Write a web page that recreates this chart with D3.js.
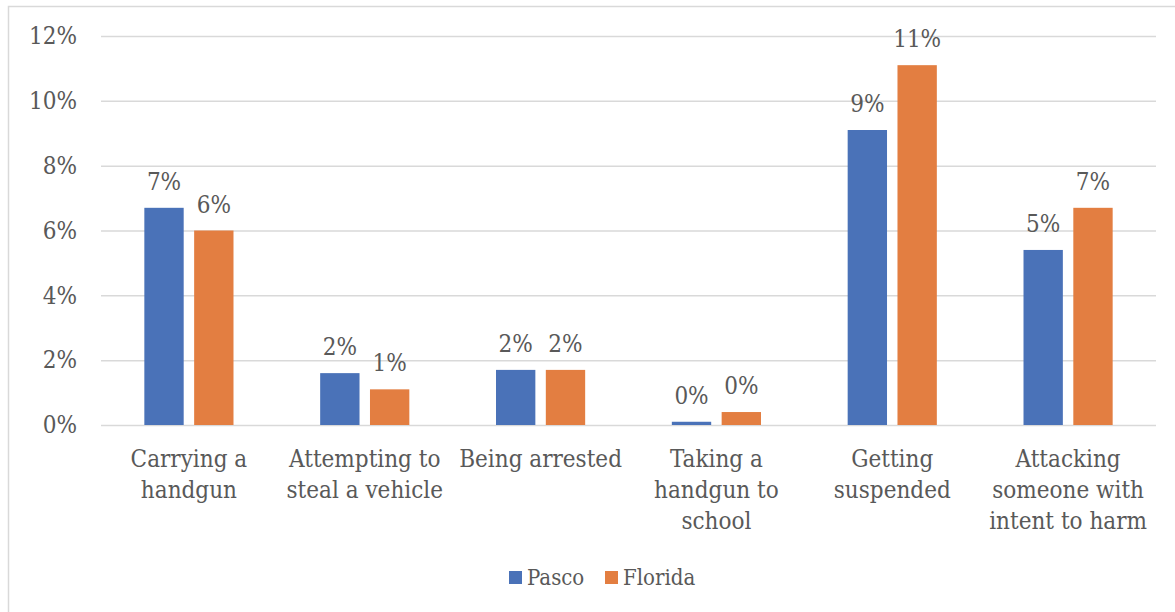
<!DOCTYPE html>
<html>
<head>
<meta charset="utf-8">
<script src="https://cdn.jsdelivr.net/npm/d3@7"></script>
<style>
  body { margin: 0; background: #fff; }
  svg text { font-family: "DejaVu Serif Condensed", "DejaVu Serif", serif; font-stretch: condensed; }
</style>
</head>
<body>
<svg></svg>
<script>
"use strict"

// chart data
let categories = [
  ["Carrying a", "handgun"],
  ["Attempting to", "steal a vehicle"],
  ["Being arrested"],
  ["Taking a", "handgun to", "school"],
  ["Getting", "suspended"],
  ["Attacking", "someone with", "intent to harm"]
]
let seriesNames = ["Pasco", "Florida"]
let pasco = [6.7, 1.6, 1.7, 0.1, 9.1, 5.4]
let florida = [6.0, 1.1, 1.7, 0.4, 11.1, 6.7]
let yTicks = [0, 2, 4, 6, 8, 10, 12]

let colors = ["#4A72B8", "#E37E41"]
let textColor = "#595959"
let fontSize = 24

let width = 1175, height = 612
let margin = {top: 36, right: 19, bottom: 187, left: 101}
let innerW = width - margin.left - margin.right
let innerH = height - margin.top - margin.bottom

let svg = d3.select("svg")
  .attr("width", width)
  .attr("height", height)

// outer chart border
svg.append("rect")
  .attr("x", 8.5).attr("y", 6.5)
  .attr("width", width).attr("height", height)
  .attr("fill", "none")
  .attr("stroke", "#D9D9D9")
  .attr("stroke-width", 1.5)

let rows = categories.map((c, i) => ({key: i, values: [pasco[i], florida[i]]}))

let x0 = d3.scaleBand()
  .domain(d3.range(categories.length))
  .range([0, innerW])

let x1 = d3.scaleBand()
  .domain(d3.range(seriesNames.length))
  .range([0, x0.bandwidth()])
  .paddingInner(0.21)
  .paddingOuter(0.87)

let y = d3.scaleLinear()
  .domain([0, 12])
  .range([innerH, 0])

let g = svg.append("g")
  .attr("transform", "translate(" + margin.left + "," + margin.top + ")")

/* gridlines + y labels */
let yAxis = g.append("g")
  .call(d3.axisLeft(y)
    .tickValues(yTicks)
    .tickSize(-innerW)
    .tickPadding(24)
    .tickFormat(d => d + "%"))
yAxis.select(".domain").remove()
yAxis.selectAll("line")
  .attr("stroke", "#D9D9D9")
  .attr("stroke-width", 1.5)
yAxis.selectAll("text")
  .attr("fill", textColor)
  .attr("font-size", fontSize)

/* bars */
let groups = g.append("g")
  .selectAll("g")
  .data(rows)
  .join("g")
  .attr("transform", d => "translate(" + x0(d.key) + ",0)")

groups.selectAll("rect")
  .data(d => d.values.map((v, s) => ({s: s, v: v})))
  .join("rect")
  .attr("x", d => x1(d.s))
  .attr("y", d => y(d.v))
  .attr("width", x1.bandwidth())
  .attr("height", d => innerH - y(d.v))
  .attr("fill", d => colors[d.s])

/* data labels */
groups.selectAll("text")
  .data(d => d.values.map((v, s) => ({s: s, v: v})))
  .join("text")
  .attr("x", d => x1(d.s) + x1.bandwidth() / 2)
  .attr("y", d => y(d.v) - 18)
  .attr("text-anchor", "middle")
  .attr("fill", textColor)
  .attr("font-size", fontSize)
  .text(d => Math.round(d.v) + "%")

/* x labels */
let xAxis = g.append("g")
  .attr("transform", "translate(0," + innerH + ")")
  .call(d3.axisBottom(x0).tickSize(0).tickFormat(""))
xAxis.select(".domain").remove()
xAxis.selectAll(".tick").each(function(i) {
  let t = d3.select(this).append("text")
    .attr("fill", textColor)
    .attr("font-size", fontSize)
    .attr("text-anchor", "middle")
  categories[i].forEach((line, k) => {
    t.append("tspan")
      .attr("x", 0)
      .attr("y", 42 + k * 31)
      .text(line)
  })
})

/* legend */
let legend = svg.append("g")
  .attr("transform", "translate(509,571)")
let item = legend.selectAll("g")
  .data(seriesNames)
  .join("g")
  .attr("transform", (d, i) => "translate(" + (i * 96) + ",0)")
item.append("rect")
  .attr("width", 13).attr("height", 13)
  .attr("fill", (d, i) => colors[i])
item.append("text")
  .attr("x", 18)
  .attr("y", 14)
  .attr("fill", textColor)
  .attr("font-size", 22)
  .text(d => d)
</script>
</body>
</html>
